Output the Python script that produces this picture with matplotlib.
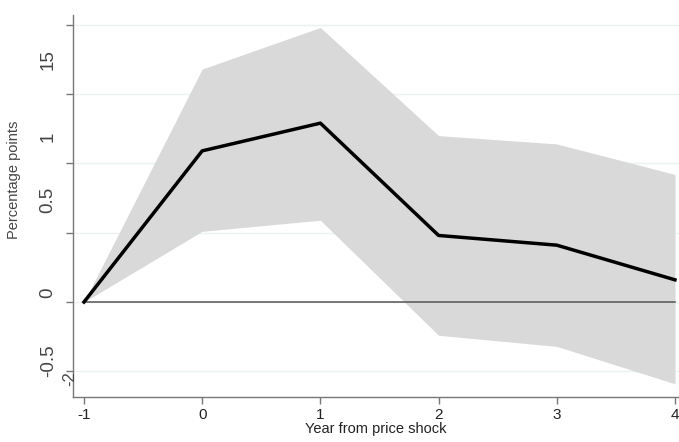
import matplotlib
matplotlib.use("Agg")
import matplotlib.pyplot as plt

# event-study estimates
years = [-1, 0, 1, 2, 3, 4]
coef = [0.0, 1.09, 1.29, 0.48, 0.41, 0.16]
upper = [0.0, 1.68, 1.98, 1.20, 1.14, 0.92]
lower = [0.0, 0.51, 0.59, -0.24, -0.32, -0.59]

# y tick labels as they appear (they sit off the tick marks in the original)
ylab_text = ["15", "1", "0.5", "0", "-0.5"]
ylab_pos = [1.746, 1.19, 0.736, 0.065, -0.42]
yticks = [-0.5, 0, 0.5, 1, 1.5, 2]

plt.rcParams["font.family"] = ["Liberation Sans", "DejaVu Sans"]

fig = plt.figure(figsize=(6.79, 4.42), dpi=100)
ax = fig.add_axes([0.1075, 0.1018, 0.8925, 0.8643])

ax.fill_between(years, lower, upper, color="#d9d9d9", lw=0, zorder=1)
ax.plot([years[0], years[-1]], [0, 0], color="#555555", lw=1.1, zorder=2)
ax.plot(years, coef, color="black", lw=2.5, zorder=3)

ax.set_xlim(-1.093, 4.034)
ax.set_ylim(-0.685, 2.07)
ax.set_xticks(years)
ax.set_xticklabels([str(y) for y in years], fontsize=11)
ax.set_yticks(yticks)
ax.set_yticklabels([])
for y in yticks:
    ax.axhline(y, color="#eaf3f3", lw=1.0, zorder=0)

tr = ax.get_yaxis_transform()
for txt, pos in zip(ylab_text, ylab_pos):
    ax.text(-0.041, pos, txt, transform=tr, rotation=90, fontsize=13.5,
            ha="center", va="center", color="#444444")
ax.text(-0.006, -0.555, "-2", transform=tr, rotation=90, fontsize=12,
        ha="center", va="center", color="#444444")

ax.set_ylabel("Percentage points", fontsize=10.5, color="#444444")
ax.yaxis.set_label_coords(-0.086, 0.568)
ax.set_xlabel("Year from price shock", fontsize=10.5, color="#222222", labelpad=0)

for sp in ("top", "right"):
    ax.spines[sp].set_visible(False)
for sp in ("left", "bottom"):
    ax.spines[sp].set_color("#777777")
    ax.spines[sp].set_linewidth(1.0)
ax.tick_params(axis="both", color="#777777", length=5, width=1.0)
ax.tick_params(axis="x", pad=3, labelcolor="#222222")

fig.savefig("out.png", dpi=100)
